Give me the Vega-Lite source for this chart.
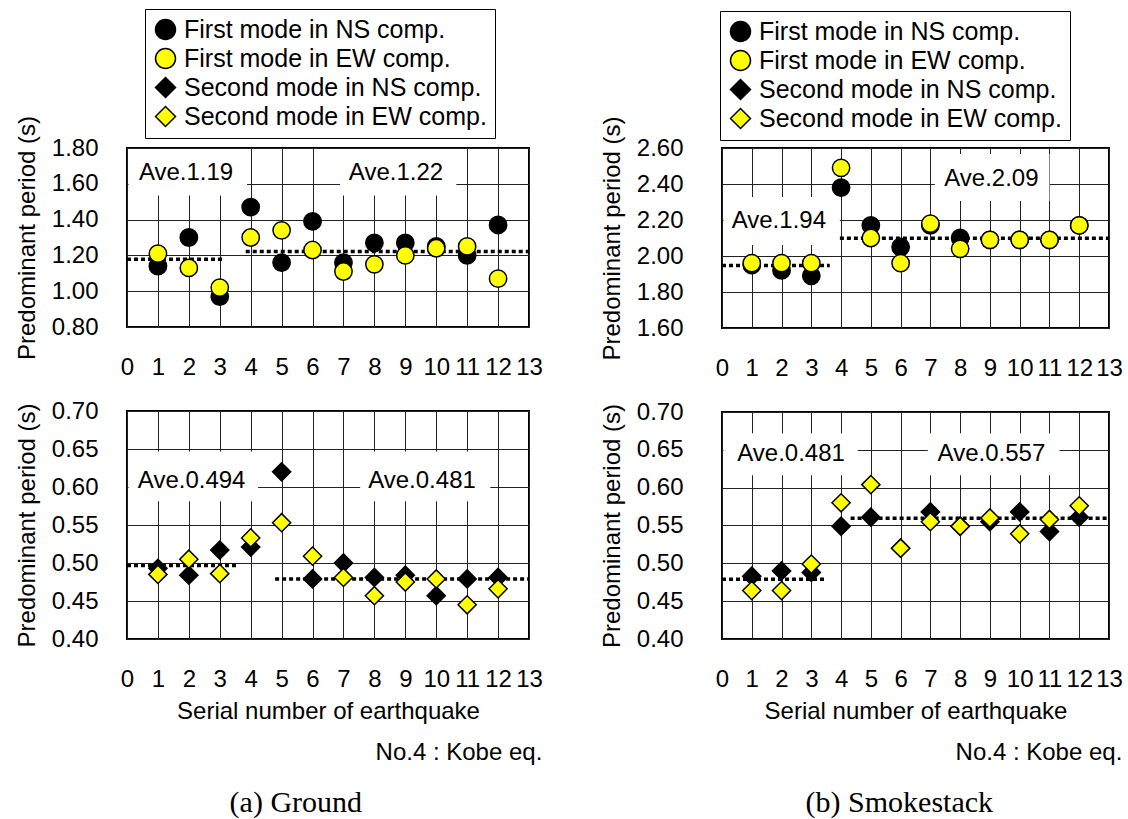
{
"$schema": "https://vega.github.io/schema/vega-lite/v6.json",
"background": "white",
"padding": {"left": 14, "top": 7, "right": 0, "bottom": 5},
"datasets": {
"points": [
{"structure":"Ground","mode":"First","series":"First mode in NS comp.","no":1,"period":1.14},
{"structure":"Ground","mode":"First","series":"First mode in NS comp.","no":2,"period":1.30},
{"structure":"Ground","mode":"First","series":"First mode in NS comp.","no":3,"period":0.97},
{"structure":"Ground","mode":"First","series":"First mode in NS comp.","no":4,"period":1.47},
{"structure":"Ground","mode":"First","series":"First mode in NS comp.","no":5,"period":1.16},
{"structure":"Ground","mode":"First","series":"First mode in NS comp.","no":6,"period":1.39},
{"structure":"Ground","mode":"First","series":"First mode in NS comp.","no":7,"period":1.16},
{"structure":"Ground","mode":"First","series":"First mode in NS comp.","no":8,"period":1.27},
{"structure":"Ground","mode":"First","series":"First mode in NS comp.","no":9,"period":1.27},
{"structure":"Ground","mode":"First","series":"First mode in NS comp.","no":10,"period":1.25},
{"structure":"Ground","mode":"First","series":"First mode in NS comp.","no":11,"period":1.20},
{"structure":"Ground","mode":"First","series":"First mode in NS comp.","no":12,"period":1.37},
{"structure":"Ground","mode":"First","series":"First mode in EW comp.","no":1,"period":1.21},
{"structure":"Ground","mode":"First","series":"First mode in EW comp.","no":2,"period":1.13},
{"structure":"Ground","mode":"First","series":"First mode in EW comp.","no":3,"period":1.02},
{"structure":"Ground","mode":"First","series":"First mode in EW comp.","no":4,"period":1.30},
{"structure":"Ground","mode":"First","series":"First mode in EW comp.","no":5,"period":1.34},
{"structure":"Ground","mode":"First","series":"First mode in EW comp.","no":6,"period":1.23},
{"structure":"Ground","mode":"First","series":"First mode in EW comp.","no":7,"period":1.11},
{"structure":"Ground","mode":"First","series":"First mode in EW comp.","no":8,"period":1.15},
{"structure":"Ground","mode":"First","series":"First mode in EW comp.","no":9,"period":1.20},
{"structure":"Ground","mode":"First","series":"First mode in EW comp.","no":10,"period":1.24},
{"structure":"Ground","mode":"First","series":"First mode in EW comp.","no":11,"period":1.25},
{"structure":"Ground","mode":"First","series":"First mode in EW comp.","no":12,"period":1.07},
{"structure":"Ground","mode":"Second","series":"Second mode in NS comp.","no":1,"period":0.493},
{"structure":"Ground","mode":"Second","series":"Second mode in NS comp.","no":2,"period":0.484},
{"structure":"Ground","mode":"Second","series":"Second mode in NS comp.","no":3,"period":0.517},
{"structure":"Ground","mode":"Second","series":"Second mode in NS comp.","no":4,"period":0.521},
{"structure":"Ground","mode":"Second","series":"Second mode in NS comp.","no":5,"period":0.620},
{"structure":"Ground","mode":"Second","series":"Second mode in NS comp.","no":6,"period":0.479},
{"structure":"Ground","mode":"Second","series":"Second mode in NS comp.","no":7,"period":0.500},
{"structure":"Ground","mode":"Second","series":"Second mode in NS comp.","no":8,"period":0.481},
{"structure":"Ground","mode":"Second","series":"Second mode in NS comp.","no":9,"period":0.484},
{"structure":"Ground","mode":"Second","series":"Second mode in NS comp.","no":10,"period":0.457},
{"structure":"Ground","mode":"Second","series":"Second mode in NS comp.","no":11,"period":0.479},
{"structure":"Ground","mode":"Second","series":"Second mode in NS comp.","no":12,"period":0.481},
{"structure":"Ground","mode":"Second","series":"Second mode in EW comp.","no":1,"period":0.485},
{"structure":"Ground","mode":"Second","series":"Second mode in EW comp.","no":2,"period":0.505},
{"structure":"Ground","mode":"Second","series":"Second mode in EW comp.","no":3,"period":0.486},
{"structure":"Ground","mode":"Second","series":"Second mode in EW comp.","no":4,"period":0.533},
{"structure":"Ground","mode":"Second","series":"Second mode in EW comp.","no":5,"period":0.553},
{"structure":"Ground","mode":"Second","series":"Second mode in EW comp.","no":6,"period":0.509},
{"structure":"Ground","mode":"Second","series":"Second mode in EW comp.","no":7,"period":0.481},
{"structure":"Ground","mode":"Second","series":"Second mode in EW comp.","no":8,"period":0.457},
{"structure":"Ground","mode":"Second","series":"Second mode in EW comp.","no":9,"period":0.475},
{"structure":"Ground","mode":"Second","series":"Second mode in EW comp.","no":10,"period":0.479},
{"structure":"Ground","mode":"Second","series":"Second mode in EW comp.","no":11,"period":0.445},
{"structure":"Ground","mode":"Second","series":"Second mode in EW comp.","no":12,"period":0.466},
{"structure":"Smokestack","mode":"First","series":"First mode in NS comp.","no":1,"period":1.95},
{"structure":"Smokestack","mode":"First","series":"First mode in NS comp.","no":2,"period":1.92},
{"structure":"Smokestack","mode":"First","series":"First mode in NS comp.","no":3,"period":1.89},
{"structure":"Smokestack","mode":"First","series":"First mode in NS comp.","no":4,"period":2.38},
{"structure":"Smokestack","mode":"First","series":"First mode in NS comp.","no":5,"period":2.17},
{"structure":"Smokestack","mode":"First","series":"First mode in NS comp.","no":6,"period":2.05},
{"structure":"Smokestack","mode":"First","series":"First mode in NS comp.","no":7,"period":2.17},
{"structure":"Smokestack","mode":"First","series":"First mode in NS comp.","no":8,"period":2.10},
{"structure":"Smokestack","mode":"First","series":"First mode in NS comp.","no":9,"period":2.09},
{"structure":"Smokestack","mode":"First","series":"First mode in NS comp.","no":10,"period":2.09},
{"structure":"Smokestack","mode":"First","series":"First mode in NS comp.","no":11,"period":2.09},
{"structure":"Smokestack","mode":"First","series":"First mode in NS comp.","no":12,"period":2.17},
{"structure":"Smokestack","mode":"First","series":"First mode in EW comp.","no":1,"period":1.96},
{"structure":"Smokestack","mode":"First","series":"First mode in EW comp.","no":2,"period":1.96},
{"structure":"Smokestack","mode":"First","series":"First mode in EW comp.","no":3,"period":1.96},
{"structure":"Smokestack","mode":"First","series":"First mode in EW comp.","no":4,"period":2.49},
{"structure":"Smokestack","mode":"First","series":"First mode in EW comp.","no":5,"period":2.10},
{"structure":"Smokestack","mode":"First","series":"First mode in EW comp.","no":6,"period":1.96},
{"structure":"Smokestack","mode":"First","series":"First mode in EW comp.","no":7,"period":2.18},
{"structure":"Smokestack","mode":"First","series":"First mode in EW comp.","no":8,"period":2.04},
{"structure":"Smokestack","mode":"First","series":"First mode in EW comp.","no":9,"period":2.09},
{"structure":"Smokestack","mode":"First","series":"First mode in EW comp.","no":10,"period":2.09},
{"structure":"Smokestack","mode":"First","series":"First mode in EW comp.","no":11,"period":2.09},
{"structure":"Smokestack","mode":"First","series":"First mode in EW comp.","no":12,"period":2.17},
{"structure":"Smokestack","mode":"Second","series":"Second mode in NS comp.","no":1,"period":0.483},
{"structure":"Smokestack","mode":"Second","series":"Second mode in NS comp.","no":2,"period":0.490},
{"structure":"Smokestack","mode":"Second","series":"Second mode in NS comp.","no":3,"period":0.488},
{"structure":"Smokestack","mode":"Second","series":"Second mode in NS comp.","no":4,"period":0.549},
{"structure":"Smokestack","mode":"Second","series":"Second mode in NS comp.","no":5,"period":0.561},
{"structure":"Smokestack","mode":"Second","series":"Second mode in NS comp.","no":6,"period":0.520},
{"structure":"Smokestack","mode":"Second","series":"Second mode in NS comp.","no":7,"period":0.568},
{"structure":"Smokestack","mode":"Second","series":"Second mode in NS comp.","no":8,"period":0.549},
{"structure":"Smokestack","mode":"Second","series":"Second mode in NS comp.","no":9,"period":0.555},
{"structure":"Smokestack","mode":"Second","series":"Second mode in NS comp.","no":10,"period":0.568},
{"structure":"Smokestack","mode":"Second","series":"Second mode in NS comp.","no":11,"period":0.542},
{"structure":"Smokestack","mode":"Second","series":"Second mode in NS comp.","no":12,"period":0.561},
{"structure":"Smokestack","mode":"Second","series":"Second mode in EW comp.","no":1,"period":0.464},
{"structure":"Smokestack","mode":"Second","series":"Second mode in EW comp.","no":2,"period":0.464},
{"structure":"Smokestack","mode":"Second","series":"Second mode in EW comp.","no":3,"period":0.499},
{"structure":"Smokestack","mode":"Second","series":"Second mode in EW comp.","no":4,"period":0.580},
{"structure":"Smokestack","mode":"Second","series":"Second mode in EW comp.","no":5,"period":0.604},
{"structure":"Smokestack","mode":"Second","series":"Second mode in EW comp.","no":6,"period":0.520},
{"structure":"Smokestack","mode":"Second","series":"Second mode in EW comp.","no":7,"period":0.555},
{"structure":"Smokestack","mode":"Second","series":"Second mode in EW comp.","no":8,"period":0.549},
{"structure":"Smokestack","mode":"Second","series":"Second mode in EW comp.","no":9,"period":0.560},
{"structure":"Smokestack","mode":"Second","series":"Second mode in EW comp.","no":10,"period":0.539},
{"structure":"Smokestack","mode":"Second","series":"Second mode in EW comp.","no":11,"period":0.558},
{"structure":"Smokestack","mode":"Second","series":"Second mode in EW comp.","no":12,"period":0.576}
],
"averages": [
{"structure":"Ground","mode":"First","from":0,"to":3.14,"ave":1.179},
{"structure":"Ground","mode":"First","from":3.84,"to":13,"ave":1.222},
{"structure":"Smokestack","mode":"First","from":0,"to":3.62,"ave":1.947},
{"structure":"Smokestack","mode":"First","from":3.96,"to":13,"ave":2.099},
{"structure":"Ground","mode":"Second","from":0,"to":3.55,"ave":0.4966},
{"structure":"Ground","mode":"Second","from":4.79,"to":13,"ave":0.479},
{"structure":"Smokestack","mode":"Second","from":0,"to":3.48,"ave":0.479},
{"structure":"Smokestack","mode":"Second","from":4.32,"to":13,"ave":0.5596}
],
"labels": [
{"structure":"Ground","mode":"First","label":"Ave.1.19","lx":1.91,"ly":1.663,"bx1":0.05,"bx2":3.88,"by1":1.534,"by2":1.795},
{"structure":"Ground","mode":"First","label":"Ave.1.22","lx":8.7,"ly":1.663,"bx1":6.89,"bx2":10.65,"by1":1.534,"by2":1.795},
{"structure":"Smokestack","mode":"First","label":"Ave.1.94","lx":1.91,"ly":2.196,"bx1":0.05,"bx2":3.96,"by1":2.061,"by2":2.328},
{"structure":"Smokestack","mode":"First","label":"Ave.2.09","lx":9.05,"ly":2.428,"bx1":7.15,"bx2":11.0,"by1":2.306,"by2":2.567},
{"structure":"Ground","mode":"Second","label":"Ave.0.494","lx":2.09,"ly":0.608,"bx1":0.05,"bx2":4.24,"by1":0.5813,"by2":0.6467},
{"structure":"Ground","mode":"Second","label":"Ave.0.481","lx":9.54,"ly":0.608,"bx1":7.54,"bx2":11.75,"by1":0.5813,"by2":0.6467},
{"structure":"Smokestack","mode":"Second","label":"Ave.0.481","lx":2.32,"ly":0.645,"bx1":0.05,"bx2":4.56,"by1":0.6164,"by2":0.6718},
{"structure":"Smokestack","mode":"Second","label":"Ave.0.557","lx":9.05,"ly":0.645,"bx1":6.91,"bx2":11.34,"by1":0.6164,"by2":0.6718}
]
},
"hconcat": [
{
"vconcat": [
{
"width": 402, "height": 179,
"layer": [
{"data": {"name": "labels"}, "transform": [{"filter": "datum.structure === 'Ground' && datum.mode === 'First'"}],
 "mark": {"type": "rect", "fill": "white"},
 "encoding": {
  "x": {"field": "bx1", "type": "quantitative", "title": null, "scale": {"domain": [0, 13], "nice": false, "zero": false}, "axis": {"values": [0,1,2,3,4,5,6,7,8,9,10,11,12,13], "tickCount": 30, "format": "d"}},
  "x2": {"field": "bx2"},
  "y": {"field": "by1", "type": "quantitative", "title": "Predominant period (s)", "scale": {"domain": [0.8, 1.8], "nice": false, "zero": false}, "axis": {"values": [0.8,1.0,1.2,1.4,1.6,1.8], "tickCount": 20, "format": ".2f", "labelPadding": 29}},
  "y2": {"field": "by2"}}},
{"data": {"name": "averages"}, "transform": [{"filter": "datum.structure === 'Ground' && datum.mode === 'First'"}],
 "mark": {"type": "rule", "color": "black", "strokeWidth": 3.5, "strokeDash": [4, 3]},
 "encoding": {
  "x": {"field": "from", "type": "quantitative", "title": null, "axis": {"values": [0,1,2,3,4,5,6,7,8,9,10,11,12,13], "tickCount": 30, "format": "d"}},
  "x2": {"field": "to"},
  "y": {"field": "ave", "type": "quantitative", "title": "Predominant period (s)", "axis": {"values": [0.8,1.0,1.2,1.4,1.6,1.8], "tickCount": 20, "format": ".2f", "labelPadding": 29}}}},
{"data": {"name": "points"}, "transform": [{"filter": "datum.structure === 'Ground' && datum.mode === 'First'"}],
 "mark": {"type": "point", "filled": true, "strokeWidth": 1.5, "size": 300, "opacity": 1},
 "encoding": {
  "x": {"field": "no", "type": "quantitative", "title": null, "axis": {"values": [0,1,2,3,4,5,6,7,8,9,10,11,12,13], "tickCount": 30, "format": "d"}},
  "y": {"field": "period", "type": "quantitative", "title": "Predominant period (s)", "axis": {"values": [0.8,1.0,1.2,1.4,1.6,1.8], "tickCount": 20, "format": ".2f", "labelPadding": 29}},
  "shape": {"field": "series", "type": "nominal", "scale": {"domain": ["First mode in NS comp.", "First mode in EW comp.", "Second mode in NS comp.", "Second mode in EW comp."], "range": ["circle", "circle", "diamond", "diamond"]}, "legend": {"orient": "none", "legendX": 18, "legendY": -139, "title": null}},
  "fill": {"field": "series", "type": "nominal", "scale": {"domain": ["First mode in NS comp.", "First mode in EW comp.", "Second mode in NS comp.", "Second mode in EW comp."], "range": ["#000000", "#FFFF00", "#000000", "#FFFF00"]}, "legend": {"orient": "none", "legendX": 18, "legendY": -139, "title": null}},
  "stroke": {"field": "series", "type": "nominal", "scale": {"domain": ["First mode in NS comp.", "First mode in EW comp.", "Second mode in NS comp.", "Second mode in EW comp."], "range": ["#000000", "#000000", "#000000", "#000000"]}, "legend": {"orient": "none", "legendX": 18, "legendY": -139, "title": null}}}},
{"data": {"name": "labels"}, "transform": [{"filter": "datum.structure === 'Ground' && datum.mode === 'First'"}],
 "mark": {"type": "text", "fontSize": 24, "font": "Liberation Sans", "color": "black"},
 "encoding": {
  "x": {"field": "lx", "type": "quantitative", "title": null, "axis": {"values": [0,1,2,3,4,5,6,7,8,9,10,11,12,13], "tickCount": 30, "format": "d"}},
  "y": {"field": "ly", "type": "quantitative", "title": "Predominant period (s)", "axis": {"values": [0.8,1.0,1.2,1.4,1.6,1.8], "tickCount": 20, "format": ".2f", "labelPadding": 29}},
  "text": {"field": "label"}}}
]
},
{
"width": 402, "height": 228,
"title": {"text": "No.4 : Kobe eq.", "orient": "bottom", "anchor": "end", "fontSize": 24, "offset": 18},
"layer": [
{"data": {"name": "labels"}, "transform": [{"filter": "datum.structure === 'Ground' && datum.mode === 'Second'"}],
 "mark": {"type": "rect", "fill": "white"},
 "encoding": {
  "x": {"field": "bx1", "type": "quantitative", "title": "Serial number of earthquake", "scale": {"domain": [0, 13], "nice": false, "zero": false}, "axis": {"values": [0,1,2,3,4,5,6,7,8,9,10,11,12,13], "tickCount": 30, "format": "d"}},
  "x2": {"field": "bx2"},
  "y": {"field": "by1", "type": "quantitative", "title": "Predominant period (s)", "scale": {"domain": [0.4, 0.7], "nice": false, "zero": false}, "axis": {"values": [0.4,0.45,0.5,0.55,0.6,0.65,0.7], "tickCount": 20, "format": ".2f", "labelPadding": 29}},
  "y2": {"field": "by2"}}},
{"data": {"name": "averages"}, "transform": [{"filter": "datum.structure === 'Ground' && datum.mode === 'Second'"}],
 "mark": {"type": "rule", "color": "black", "strokeWidth": 3.5, "strokeDash": [4, 3]},
 "encoding": {
  "x": {"field": "from", "type": "quantitative", "title": "Serial number of earthquake", "axis": {"values": [0,1,2,3,4,5,6,7,8,9,10,11,12,13], "tickCount": 30, "format": "d"}},
  "x2": {"field": "to"},
  "y": {"field": "ave", "type": "quantitative", "title": "Predominant period (s)", "axis": {"values": [0.4,0.45,0.5,0.55,0.6,0.65,0.7], "tickCount": 20, "format": ".2f", "labelPadding": 29}}}},
{"data": {"name": "points"}, "transform": [{"filter": "datum.structure === 'Ground' && datum.mode === 'Second'"}],
 "mark": {"type": "point", "filled": true, "strokeWidth": 1.5, "size": 330, "opacity": 1},
 "encoding": {
  "x": {"field": "no", "type": "quantitative", "title": "Serial number of earthquake", "axis": {"values": [0,1,2,3,4,5,6,7,8,9,10,11,12,13], "tickCount": 30, "format": "d"}},
  "y": {"field": "period", "type": "quantitative", "title": "Predominant period (s)", "axis": {"values": [0.4,0.45,0.5,0.55,0.6,0.65,0.7], "tickCount": 20, "format": ".2f", "labelPadding": 29}},
  "shape": {"field": "series", "type": "nominal", "scale": {"domain": ["First mode in NS comp.", "First mode in EW comp.", "Second mode in NS comp.", "Second mode in EW comp."], "range": ["circle", "circle", "diamond", "diamond"]}, "legend": null},
  "fill": {"field": "series", "type": "nominal", "scale": {"domain": ["First mode in NS comp.", "First mode in EW comp.", "Second mode in NS comp.", "Second mode in EW comp."], "range": ["#000000", "#FFFF00", "#000000", "#FFFF00"]}, "legend": null},
  "stroke": {"field": "series", "type": "nominal", "scale": {"domain": ["First mode in NS comp.", "First mode in EW comp.", "Second mode in NS comp.", "Second mode in EW comp."], "range": ["#000000", "#000000", "#000000", "#000000"]}, "legend": null}}},
{"data": {"name": "labels"}, "transform": [{"filter": "datum.structure === 'Ground' && datum.mode === 'Second'"}],
 "mark": {"type": "text", "fontSize": 24, "font": "Liberation Sans", "color": "black"},
 "encoding": {
  "x": {"field": "lx", "type": "quantitative", "title": "Serial number of earthquake", "axis": {"values": [0,1,2,3,4,5,6,7,8,9,10,11,12,13], "tickCount": 30, "format": "d"}},
  "y": {"field": "ly", "type": "quantitative", "title": "Predominant period (s)", "axis": {"values": [0.4,0.45,0.5,0.55,0.6,0.65,0.7], "tickCount": 20, "format": ".2f", "labelPadding": 29}},
  "text": {"field": "label"}}}
]
}
],
"spacing": 18,
"resolve": {"scale": {"shape": "independent", "fill": "independent", "stroke": "independent"}},
"title": {"text": "(a) Ground", "orient": "bottom", "anchor": "middle", "font": "Liberation Serif", "fontSize": 30, "offset": 22, "dx": 17}
},
{
"vconcat": [
{
"width": 387, "height": 180,
"layer": [
{"data": {"name": "labels"}, "transform": [{"filter": "datum.structure === 'Smokestack' && datum.mode === 'First'"}],
 "mark": {"type": "rect", "fill": "white"},
 "encoding": {
  "x": {"field": "bx1", "type": "quantitative", "title": null, "scale": {"domain": [0, 13], "nice": false, "zero": false}, "axis": {"values": [0,1,2,3,4,5,6,7,8,9,10,11,12,13], "tickCount": 30, "format": "d"}},
  "x2": {"field": "bx2"},
  "y": {"field": "by1", "type": "quantitative", "title": "Predominant period (s)", "scale": {"domain": [1.6, 2.6], "nice": false, "zero": false}, "axis": {"values": [1.6,1.8,2.0,2.2,2.4,2.6], "tickCount": 20, "format": ".2f", "labelPadding": 39}},
  "y2": {"field": "by2"}}},
{"data": {"name": "averages"}, "transform": [{"filter": "datum.structure === 'Smokestack' && datum.mode === 'First'"}],
 "mark": {"type": "rule", "color": "black", "strokeWidth": 3.5, "strokeDash": [4, 3]},
 "encoding": {
  "x": {"field": "from", "type": "quantitative", "title": null, "axis": {"values": [0,1,2,3,4,5,6,7,8,9,10,11,12,13], "tickCount": 30, "format": "d"}},
  "x2": {"field": "to"},
  "y": {"field": "ave", "type": "quantitative", "title": "Predominant period (s)", "axis": {"values": [1.6,1.8,2.0,2.2,2.4,2.6], "tickCount": 20, "format": ".2f", "labelPadding": 39}}}},
{"data": {"name": "points"}, "transform": [{"filter": "datum.structure === 'Smokestack' && datum.mode === 'First'"}],
 "mark": {"type": "point", "filled": true, "strokeWidth": 1.5, "size": 300, "opacity": 1},
 "encoding": {
  "x": {"field": "no", "type": "quantitative", "title": null, "axis": {"values": [0,1,2,3,4,5,6,7,8,9,10,11,12,13], "tickCount": 30, "format": "d"}},
  "y": {"field": "period", "type": "quantitative", "title": "Predominant period (s)", "axis": {"values": [1.6,1.8,2.0,2.2,2.4,2.6], "tickCount": 20, "format": ".2f", "labelPadding": 39}},
  "shape": {"field": "series", "type": "nominal", "scale": {"domain": ["First mode in NS comp.", "First mode in EW comp.", "Second mode in NS comp.", "Second mode in EW comp."], "range": ["circle", "circle", "diamond", "diamond"]}, "legend": {"orient": "none", "legendX": -2, "legendY": -137, "title": null}},
  "fill": {"field": "series", "type": "nominal", "scale": {"domain": ["First mode in NS comp.", "First mode in EW comp.", "Second mode in NS comp.", "Second mode in EW comp."], "range": ["#000000", "#FFFF00", "#000000", "#FFFF00"]}, "legend": {"orient": "none", "legendX": -2, "legendY": -137, "title": null}},
  "stroke": {"field": "series", "type": "nominal", "scale": {"domain": ["First mode in NS comp.", "First mode in EW comp.", "Second mode in NS comp.", "Second mode in EW comp."], "range": ["#000000", "#000000", "#000000", "#000000"]}, "legend": {"orient": "none", "legendX": -2, "legendY": -137, "title": null}}}},
{"data": {"name": "labels"}, "transform": [{"filter": "datum.structure === 'Smokestack' && datum.mode === 'First'"}],
 "mark": {"type": "text", "fontSize": 24, "font": "Liberation Sans", "color": "black"},
 "encoding": {
  "x": {"field": "lx", "type": "quantitative", "title": null, "axis": {"values": [0,1,2,3,4,5,6,7,8,9,10,11,12,13], "tickCount": 30, "format": "d"}},
  "y": {"field": "ly", "type": "quantitative", "title": "Predominant period (s)", "axis": {"values": [1.6,1.8,2.0,2.2,2.4,2.6], "tickCount": 20, "format": ".2f", "labelPadding": 39}},
  "text": {"field": "label"}}}
]
},
{
"width": 387, "height": 227,
"title": {"text": "No.4 : Kobe eq.", "orient": "bottom", "anchor": "end", "fontSize": 24, "offset": 18},
"layer": [
{"data": {"name": "labels"}, "transform": [{"filter": "datum.structure === 'Smokestack' && datum.mode === 'Second'"}],
 "mark": {"type": "rect", "fill": "white"},
 "encoding": {
  "x": {"field": "bx1", "type": "quantitative", "title": "Serial number of earthquake", "scale": {"domain": [0, 13], "nice": false, "zero": false}, "axis": {"values": [0,1,2,3,4,5,6,7,8,9,10,11,12,13], "tickCount": 30, "format": "d"}},
  "x2": {"field": "bx2"},
  "y": {"field": "by1", "type": "quantitative", "title": "Predominant period (s)", "scale": {"domain": [0.4, 0.7], "nice": false, "zero": false}, "axis": {"values": [0.4,0.45,0.5,0.55,0.6,0.65,0.7], "tickCount": 20, "format": ".2f", "labelPadding": 39}},
  "y2": {"field": "by2"}}},
{"data": {"name": "averages"}, "transform": [{"filter": "datum.structure === 'Smokestack' && datum.mode === 'Second'"}],
 "mark": {"type": "rule", "color": "black", "strokeWidth": 3.5, "strokeDash": [4, 3]},
 "encoding": {
  "x": {"field": "from", "type": "quantitative", "title": "Serial number of earthquake", "axis": {"values": [0,1,2,3,4,5,6,7,8,9,10,11,12,13], "tickCount": 30, "format": "d"}},
  "x2": {"field": "to"},
  "y": {"field": "ave", "type": "quantitative", "title": "Predominant period (s)", "axis": {"values": [0.4,0.45,0.5,0.55,0.6,0.65,0.7], "tickCount": 20, "format": ".2f", "labelPadding": 39}}}},
{"data": {"name": "points"}, "transform": [{"filter": "datum.structure === 'Smokestack' && datum.mode === 'Second'"}],
 "mark": {"type": "point", "filled": true, "strokeWidth": 1.5, "size": 330, "opacity": 1},
 "encoding": {
  "x": {"field": "no", "type": "quantitative", "title": "Serial number of earthquake", "axis": {"values": [0,1,2,3,4,5,6,7,8,9,10,11,12,13], "tickCount": 30, "format": "d"}},
  "y": {"field": "period", "type": "quantitative", "title": "Predominant period (s)", "axis": {"values": [0.4,0.45,0.5,0.55,0.6,0.65,0.7], "tickCount": 20, "format": ".2f", "labelPadding": 39}},
  "shape": {"field": "series", "type": "nominal", "scale": {"domain": ["First mode in NS comp.", "First mode in EW comp.", "Second mode in NS comp.", "Second mode in EW comp."], "range": ["circle", "circle", "diamond", "diamond"]}, "legend": null},
  "fill": {"field": "series", "type": "nominal", "scale": {"domain": ["First mode in NS comp.", "First mode in EW comp.", "Second mode in NS comp.", "Second mode in EW comp."], "range": ["#000000", "#FFFF00", "#000000", "#FFFF00"]}, "legend": null},
  "stroke": {"field": "series", "type": "nominal", "scale": {"domain": ["First mode in NS comp.", "First mode in EW comp.", "Second mode in NS comp.", "Second mode in EW comp."], "range": ["#000000", "#000000", "#000000", "#000000"]}, "legend": null}}},
{"data": {"name": "labels"}, "transform": [{"filter": "datum.structure === 'Smokestack' && datum.mode === 'Second'"}],
 "mark": {"type": "text", "fontSize": 24, "font": "Liberation Sans", "color": "black"},
 "encoding": {
  "x": {"field": "lx", "type": "quantitative", "title": "Serial number of earthquake", "axis": {"values": [0,1,2,3,4,5,6,7,8,9,10,11,12,13], "tickCount": 30, "format": "d"}},
  "y": {"field": "ly", "type": "quantitative", "title": "Predominant period (s)", "axis": {"values": [0.4,0.45,0.5,0.55,0.6,0.65,0.7], "tickCount": 20, "format": ".2f", "labelPadding": 39}},
  "text": {"field": "label"}}}
]
}
],
"spacing": 18,
"resolve": {"scale": {"shape": "independent", "fill": "independent", "stroke": "independent"}},
"title": {"text": "(b) Smokestack", "orient": "bottom", "anchor": "middle", "font": "Liberation Serif", "fontSize": 30, "offset": 22, "dx": 38}
}
],
"spacing": 55,
"resolve": {"scale": {"shape": "independent", "fill": "independent", "stroke": "independent"}},
"config": {
 "font": "Liberation Sans",
 "view": {"stroke": "black", "strokeWidth": 2},
 "axis": {"labelFont": "Liberation Sans", "labelFontSize": 24, "labelColor": "black", "titleFont": "Liberation Sans", "titleFontSize": 24, "titleFontWeight": "normal", "titleColor": "black", "grid": true, "gridColor": "#222222", "gridWidth": 1, "gridOpacity": 1, "ticks": false, "domain": false, "labelOverlap": false, "labelFlush": false, "labelBound": false},
 "axisX": {"labelPadding": 28, "labelAngle": 0, "titlePadding": 8},
 "axisY": {"titlePadding": 12},
 "title": {"font": "Liberation Sans", "fontWeight": "normal", "color": "black"},
 "legend": {"strokeColor": "black", "strokeWidth": 1, "fillColor": "white", "padding": 8, "labelFont": "Liberation Sans", "labelFontSize": 25, "labelColor": "black", "labelLimit": 500, "symbolSize": 400, "symbolStrokeWidth": 1.5, "rowPadding": 2, "labelOffset": 6}
}
}
